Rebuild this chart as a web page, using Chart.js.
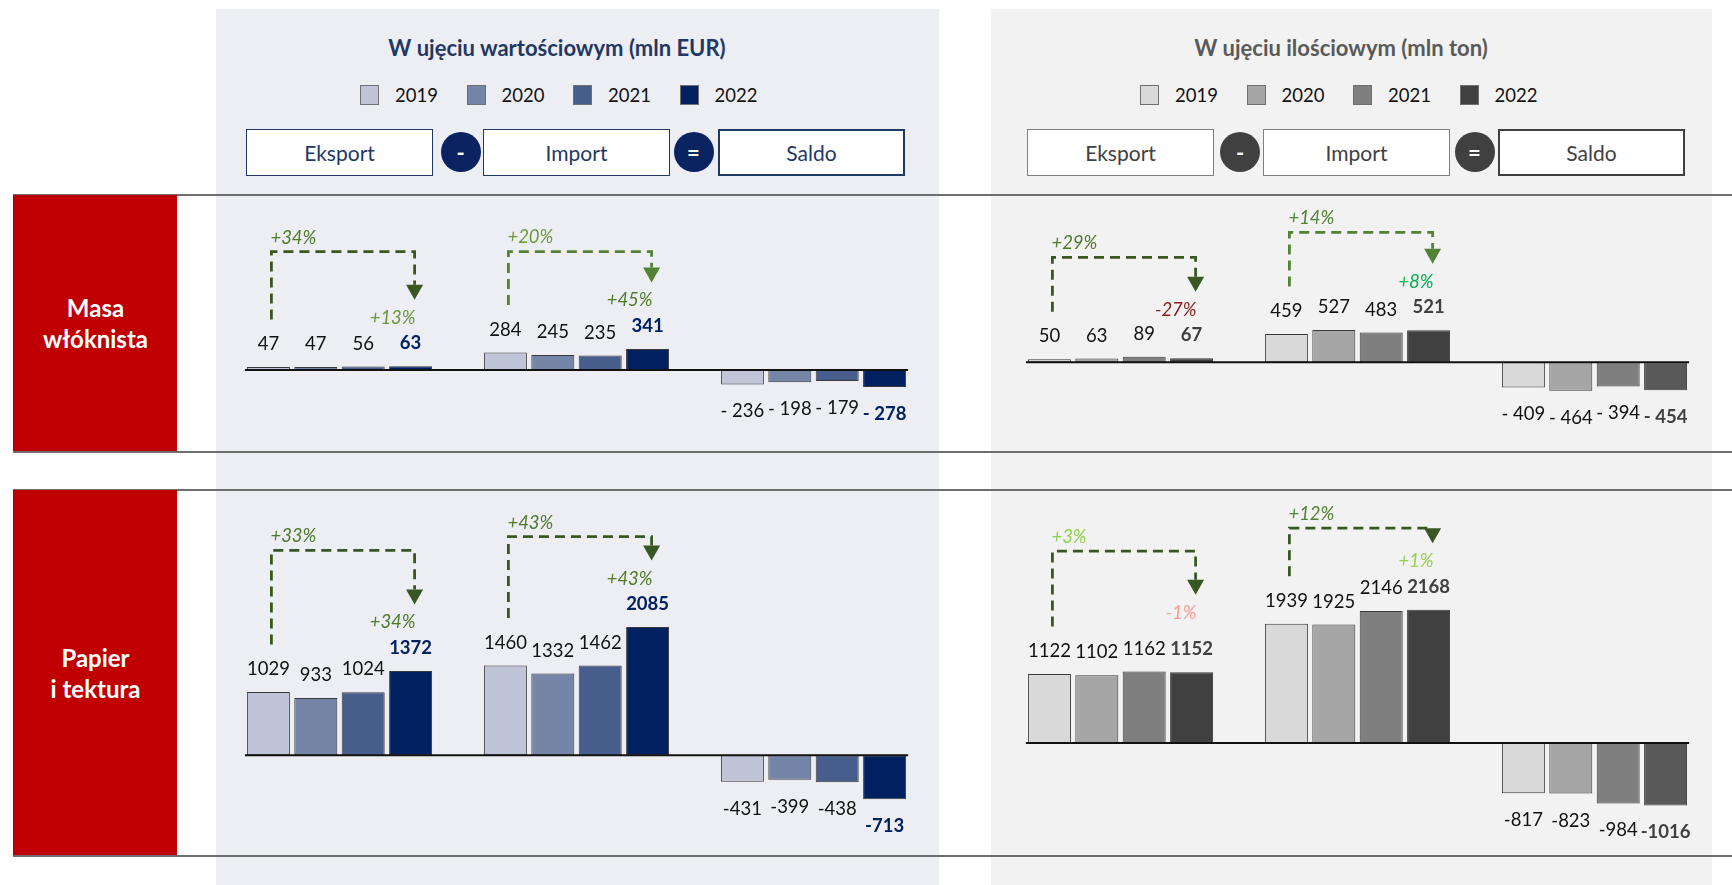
<!DOCTYPE html>
<html lang="pl">
<head>
<meta charset="utf-8">
<title>Handel: masa włóknista, papier i tektura</title>
<script src="https://cdn.jsdelivr.net/npm/chart.js@4.4.1/dist/chart.umd.min.js"></script>
<style>
  html, body { margin: 0; padding: 0; background: #fff; }
  body { position: relative; width: 1732px; height: 885px; overflow: hidden; font-family: Lato, "Open Sans", sans-serif; }
  .abs { position: absolute; }
  .panel { top: 9px; height: 876px; }
  .rowline { left: 13px; width: 1719px; height: 0; border-top: 2px solid #6e6e6e; }
  .rowlabel { left: 13px; width: 164px; background: #c00000; color: #fff; font-weight: 700; font-size: 24px; line-height: 31px;
              display: flex; align-items: center; justify-content: center; text-align: center; box-sizing: border-box; border-left: 1px solid #333; }
  .title { font-weight: 700; font-size: 22px; transform: translateX(-50%); white-space: nowrap; top: 34px; }
  .leg { top: 85px; height: 20px; display: flex; align-items: center; font-size: 18.5px; color: #111; white-space: nowrap; }
  .leg span { display: flex; align-items: center; flex: none; }
  .leg i { display: inline-block; flex: none; width: 17px; height: 18px; border: 1px solid #6f6f6f; margin-right: 16px; }
  .box { top: 129px; height: 47px; background: #fff; box-sizing: border-box; display: flex; align-items: center; justify-content: center; font-size: 21px; }
  .op { top: 132px; width: 40px; height: 40px; border-radius: 50%; color: #fff; font-weight: 700; font-size: 22px;
        display: flex; align-items: center; justify-content: center; transform: translateX(-50%); }
  canvas { position: absolute; }
</style>
</head>
<body>

<div class="abs panel" style="left:216px;width:723px;background:#edeef3"></div>
<div class="abs panel" style="left:991px;width:721px;background:#f2f2f2"></div>

<div class="abs rowline" style="top:194px"></div>
<div class="abs rowline" style="top:451px"></div>
<div class="abs rowline" style="top:489px"></div>
<div class="abs rowline" style="top:855px"></div>

<div class="abs rowlabel" style="top:195px;height:256px">Masa<br>włóknista</div>
<div class="abs rowlabel" style="top:490px;height:365px">Papier<br>i tektura</div>

<div class="abs title" style="left:557px;color:#1f3864">W ujęciu wartościowym (mln EUR)</div>
<div class="abs title" style="left:1341px;color:#595959">W ujęciu ilościowym (mln ton)</div>

<div id="legEur"></div>
<div id="legTon"></div>
<div id="boxes"></div>

<canvas id="masaEur" width="711" height="250" style="left:221px;top:200px"></canvas>
<canvas id="masaTon" width="711" height="250" style="left:1002px;top:200px"></canvas>
<canvas id="papierEur" width="711" height="360" style="left:221px;top:495px"></canvas>
<canvas id="papierTon" width="711" height="360" style="left:1002px;top:495px"></canvas>

<script>
const categories = ['Eksport', 'Import', 'Saldo'];
const years = ['2019', '2020', '2021', '2022'];

// masa włóknista, mln EUR
const masaEur2019 = [47, 284, -236];
const masaEur2020 = [47, 245, -198];
const masaEur2021 = [56, 235, -179];
const masaEur2022 = [63, 341, -278];
// masa włóknista, mln ton
const masaTon2019 = [50, 459, -409];
const masaTon2020 = [63, 527, -464];
const masaTon2021 = [89, 483, -394];
const masaTon2022 = [67, 521, -454];
// papier i tektura, mln EUR
const papierEur2019 = [1029, 1460, -431];
const papierEur2020 = [933, 1332, -399];
const papierEur2021 = [1024, 1462, -438];
const papierEur2022 = [1372, 2085, -713];
// papier i tektura, mln ton
const papierTon2019 = [1122, 1939, -817];
const papierTon2020 = [1102, 1925, -823];
const papierTon2021 = [1162, 2146, -984];
const papierTon2022 = [1152, 2168, -1016];

// zmiana 2022/2019 (nad strzałką) i 2022/2021 (przy grocie), dla eksportu i importu
const masaEurChange = ['+34%', '+20%'];
const masaEurChangeYoY = ['+13%', '+45%'];
const masaTonChange = ['+29%', '+14%'];
const masaTonChangeYoY = ['-27%', '+8%'];
const papierEurChange = ['+33%', '+43%'];
const papierEurChangeYoY = ['+34%', '+43%'];
const papierTonChange = ['+3%', '+12%'];
const papierTonChangeYoY = ['-1%', '+1%'];

const eurColors = ['#bfc5d7', '#7585a8', '#475d8b', '#002060'];
const tonColors = ['#d9d9d9', '#a6a6a6', '#7f7f7f', '#404040'];
const tonSaldo2022 = '#595959';

const FONT = 'Lato, "Open Sans", sans-serif';
const PX_PER_UNIT = 0.0615;
const LABEL_SIZE = 18.5;

// legendy
function legend(el, left, colors) {
  el.className = 'abs leg';
  el.style.left = left + 'px';
  years.forEach(function(y, i) {
    let item = document.createElement('span');
    item.style.width = (i < years.length - 1 ? 106.5 : 80) + 'px';
    item.innerHTML = '<i style="background:' + colors[i] + '"></i>' + y;
    el.appendChild(item);
  });
}
legend(document.getElementById('legEur'), 360, eurColors);
legend(document.getElementById('legTon'), 1140, tonColors);

// Eksport - Import = Saldo
function formula(lefts, ops, width, line, strong, circle) {
  let html = '';
  categories.forEach(function(c, i) {
    let last = i == categories.length - 1;
    html += '<div class="abs box" style="left:' + lefts[i] + 'px;width:' + width + 'px;color:' + strong +
      ';border:' + (last ? '2px solid ' + strong : '1px solid ' + line) + '">' + c + '</div>';
  });
  ['-', '='].forEach(function(s, i) {
    html += '<div class="abs op" style="left:' + ops[i] + 'px;background:' + circle + '">' + s + '</div>';
  });
  return html;
}
document.getElementById('boxes').innerHTML =
  formula([246, 483, 718], [460.5, 693.5], 187, '#1f3864', '#1f3864', '#0a2461') +
  formula([1027, 1263, 1498], [1240, 1474.5], 187, '#7f7f7f', '#404040', '#404040');

function labelY(bar, v) {
  return v >= 0 ? bar.y - 23.5 : bar.y + 26.3;
}

function fmt(v, negPrefix) {
  return v < 0 ? negPrefix + Math.abs(v) : String(v);
}

const barLabels = {
  id: 'barLabels',
  afterDatasetsDraw(chart, args, o) {
    const ctx = chart.ctx,
        n = chart.data.datasets.length,
        y0 = chart.scales.y.getPixelForValue(0),
        first = chart.getDatasetMeta(0).data[0],
        end = chart.getDatasetMeta(n - 1).data[categories.length - 1];
    ctx.save();
    ctx.strokeStyle = '#111';
    ctx.lineWidth = 2;
    ctx.beginPath();
    ctx.moveTo(first.x - first.width / 2 - 2, y0);
    ctx.lineTo(end.x + end.width / 2 + 2, y0);
    ctx.stroke();

    ctx.textAlign = 'center';
    ctx.textBaseline = 'alphabetic';
    chart.data.datasets.forEach(function(ds, di) {
      let strong = di == n - 1;
      ctx.font = (strong ? 'bold ' : '') + LABEL_SIZE + 'px ' + FONT;
      ctx.fillStyle = strong ? o.strong : '#111';
      chart.getDatasetMeta(di).data.forEach(function(bar, i) {
        let v = ds.data[i];
        ctx.fillText(fmt(v, o.negPrefix), bar.x, labelY(bar, v) + LABEL_SIZE * 0.36);
      });
    });
    ctx.restore();
  }
};

const brackets = {
  id: 'brackets',
  afterDatasetsDraw(chart, args, o) {
    const ctx = chart.ctx,
        n = chart.data.datasets.length;
    ctx.save();
    o.items.forEach(function(b, g) {
      let bars = [],
          ys = [];
      chart.data.datasets.forEach(function(ds, di) {
        let bar = chart.getDatasetMeta(di).data[g];
        bars.push(bar);
        ys.push(labelY(bar, ds.data[g]));
      });
      let leftX = bars[0].x + 3,
          rightX = bars[n - 1].x + 4,
          top = Math.min.apply(null, ys) - b.rise,
          leftBottom = ys[0] - 24,
          shortY = ys[n - 1] - 25 - b.lift,
          tip = shortY - 18;

      ctx.strokeStyle = b.line;
      ctx.fillStyle = b.line;
      ctx.lineWidth = 2.8;
      ctx.setLineDash([10, 6]);
      ctx.beginPath();
      ctx.moveTo(leftX, leftBottom);
      ctx.lineTo(leftX, top);
      ctx.lineTo(rightX, top);
      ctx.lineTo(rightX, tip - 15);
      ctx.stroke();
      ctx.setLineDash([]);
      ctx.beginPath();
      ctx.moveTo(rightX - 8.5, tip - 15);
      ctx.lineTo(rightX + 8.5, tip - 15);
      ctx.lineTo(rightX, tip);
      ctx.closePath();
      ctx.fill();

      ctx.font = 'italic 18.5px ' + FONT;
      ctx.textBaseline = 'middle';
      ctx.textAlign = 'left';
      ctx.fillStyle = b.longColor;
      ctx.fillText(b.long, leftX - 1, top - 14);
      ctx.textAlign = 'right';
      ctx.fillStyle = b.shortColor;
      ctx.fillText(b.short, rightX + 1, shortY);
    });
    ctx.restore();
  }
};

function makeChart(id, series, colors, opts) {
  const canvas = document.getElementById(id),
      top = parseFloat(canvas.style.top),
      h = canvas.height;
  const datasets = series.map(function(data, i) {
    return {
      label: years[i],
      data: data,
      backgroundColor: (opts.colors22 && i == series.length - 1) ? opts.colors22 : colors[i],
      borderColor: '#3a3a3a',
      borderWidth: 1,
      borderSkipped: false,
      barPercentage: 0.907,
      categoryPercentage: 0.8
    };
  });
  const items = opts.change.map(function(c, g) {
    return {
      long: c,
      short: opts.yoy[g],
      rise: opts.rise[g],
      lift: opts.lift ? opts.lift[g] : 0,
      line: opts.lines[g],
      longColor: opts.longColors[g],
      shortColor: opts.shortColors[g]
    };
  });
  return new Chart(canvas, {
    type: 'bar',
    data: { labels: categories, datasets: datasets },
    options: {
      responsive: false,
      animation: false,
      layout: { padding: 0 },
      scales: {
        x: { display: false },
        y: {
          display: false,
          min: -(top + h - opts.baseline) / PX_PER_UNIT,
          max: (opts.baseline - top) / PX_PER_UNIT
        }
      },
      plugins: {
        legend: { display: false },
        tooltip: { enabled: false },
        barLabels: { strong: opts.strong, negPrefix: opts.negPrefix },
        brackets: { items: items }
      }
    },
    plugins: [barLabels, brackets]
  });
}

const dark = '#385723', mid = '#548235';

makeChart('masaEur', [masaEur2019, masaEur2020, masaEur2021, masaEur2022], eurColors, {
  baseline: 370, strong: '#002060', negPrefix: '- ',
  change: masaEurChange, yoy: masaEurChangeYoY, rise: [91, 74],
  lines: [dark, mid], longColors: ['#4f7a2a', '#6a9a3c'], shortColors: ['#6a9a3c', '#4f7a2a']
});
makeChart('masaTon', [masaTon2019, masaTon2020, masaTon2021, masaTon2022], tonColors, {
  baseline: 362.3, strong: '#404040', negPrefix: '- ', colors22: [tonColors[3], tonColors[3], tonSaldo2022],
  change: masaTonChange, yoy: masaTonChangeYoY, rise: [76, 74],
  lines: [dark, mid], longColors: ['#4f7a2a', '#548235'], shortColors: ['#8b1a1a', '#00b050']
});
makeChart('papierEur', [papierEur2019, papierEur2020, papierEur2021, papierEur2022], eurColors, {
  baseline: 755.3, strong: '#002060', negPrefix: '-',
  change: papierEurChange, yoy: papierEurChangeYoY, rise: [97, 67],
  lines: [dark, dark], longColors: ['#4f7a2a', '#4f7a2a'], shortColors: ['#4f7a2a', '#4f7a2a']
});
makeChart('papierTon', [papierTon2019, papierTon2020, papierTon2021, papierTon2022], tonColors, {
  baseline: 743, strong: '#404040', negPrefix: '-', colors22: [tonColors[3], tonColors[3], tonSaldo2022],
  change: papierTonChange, yoy: papierTonChangeYoY, rise: [97, 58], lift: [11, 0],
  lines: [dark, dark], longColors: ['#92d050', '#548235'], shortColors: ['#ff9999', '#92d050']
});
</script>
</body>
</html>
